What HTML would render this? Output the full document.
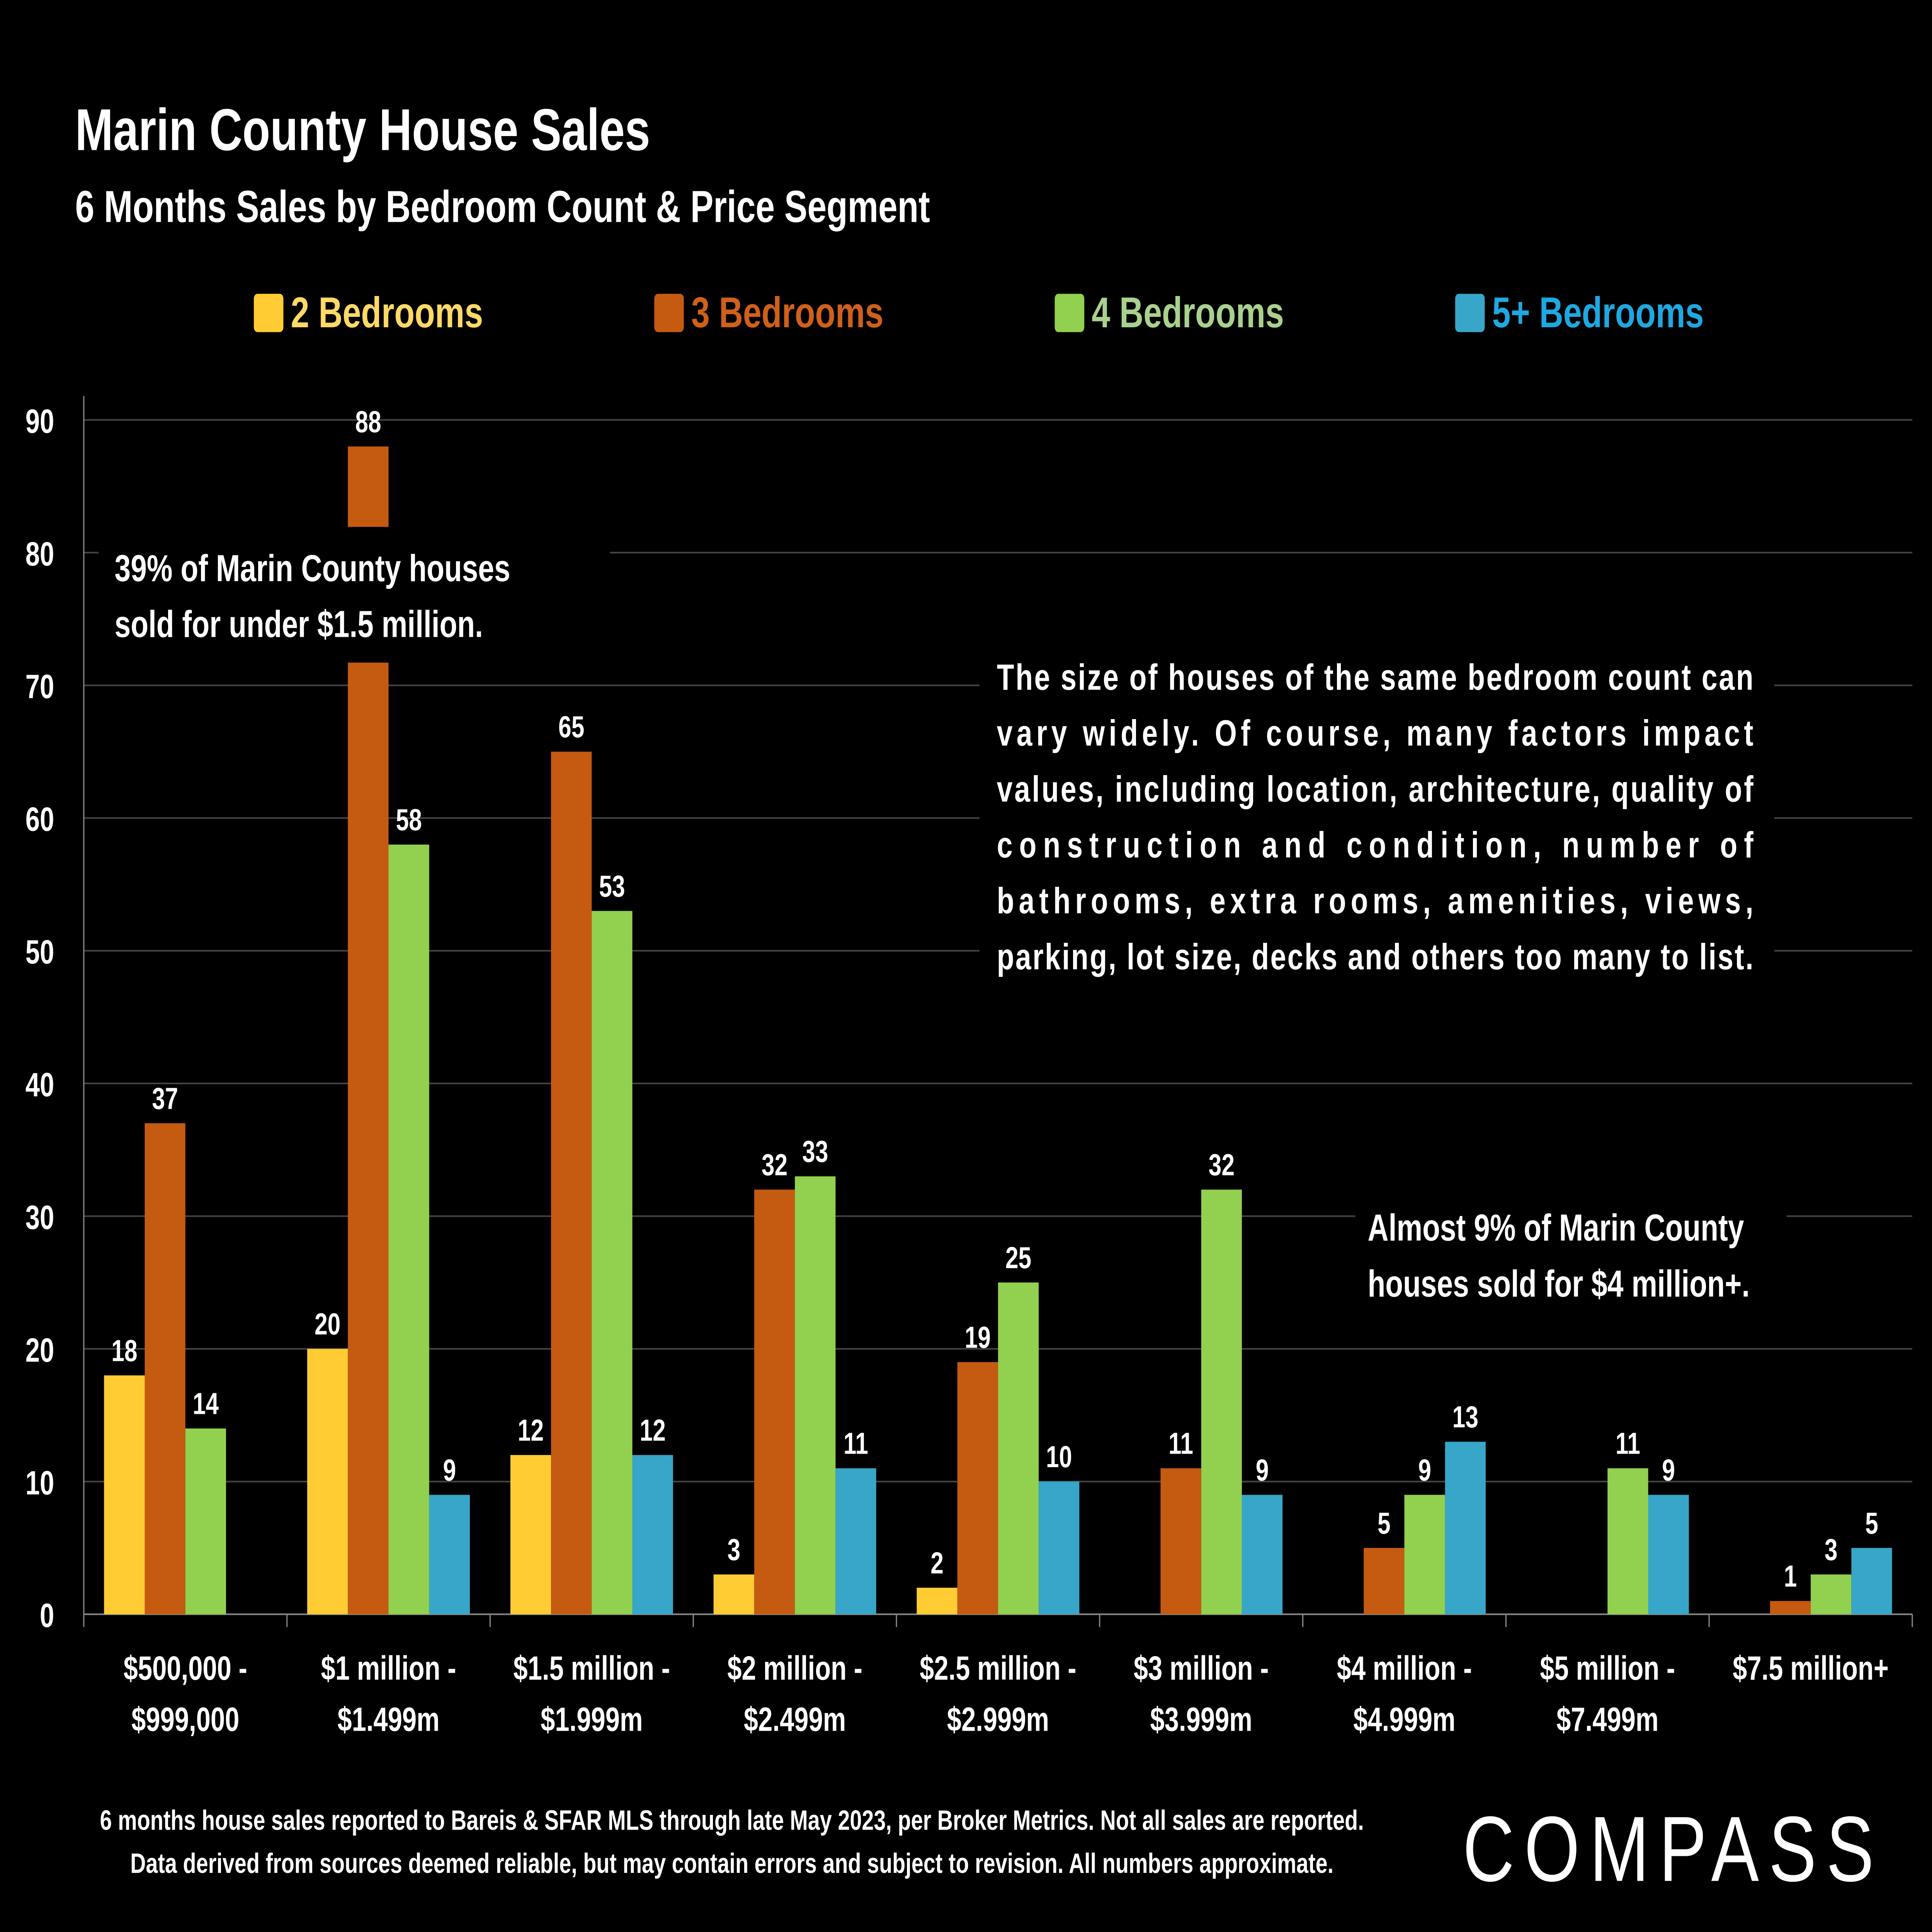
<!DOCTYPE html>
<html><head><meta charset="utf-8"><style>
html,body{margin:0;padding:0;background:#000;width:100vw;height:100vh;overflow:hidden;}
svg{display:block;width:100vw;height:100vh;}
text{font-family:"Liberation Sans",sans-serif;font-weight:bold;}
</style></head><body>
<svg id="chart" xmlns="http://www.w3.org/2000/svg" viewBox="0 0 1568 1210" preserveAspectRatio="none">
<rect width="1568" height="1210" fill="#000"/>
<text x="61" y="94" font-size="37" fill="#fff">Marin County House Sales</text>
<text x="61" y="139" font-size="28" fill="#fff">6 Months Sales by Bedroom Count &amp; Price Segment</text>
<g id="legend"></g>
<g id="grid"></g>
<g id="bars"></g>
<g id="overlay"></g>
<text x="594" y="1146" font-size="17.5" fill="#fff" text-anchor="middle">6 months house sales reported to Bareis &amp; SFAR MLS through late May 2023, per Broker Metrics. Not all sales are reported.</text>
<text x="594" y="1173" font-size="17.5" fill="#fff" text-anchor="middle">Data derived from sources deemed reliable, but may contain errors and subject to revision. All numbers approximate.</text>
<text x="1358" y="1178" font-size="58" fill="#fff" text-anchor="middle" style="font-weight:normal;letter-spacing:8px">COMPASS</text>
</svg>
<script>
const categories=["$500,000 -|$999,000","$1 million -|$1.499m","$1.5 million -|$1.999m","$2 million -|$2.499m","$2.5 million -|$2.999m","$3 million -|$3.999m","$4 million -|$4.999m","$5 million -|$7.499m","$7.5 million+|"];
const seriesNames=["2 Bedrooms","3 Bedrooms","4 Bedrooms","5+ Bedrooms"];
const br2=[18,20,12,3,2,null,null,null,null];
const br3=[37,88,65,32,19,11,5,null,1];
const br4=[14,58,53,33,25,32,9,11,3];
const br5=[null,9,12,11,10,9,13,9,5];
const yTicks=[0,10,20,30,40,50,60,70,80,90];
const colors=["#FFCC33","#C55A11","#92D050","#37A6C8"];
const legendColors=["#FFD966","#D0601A","#A9D18E","#1FA8E0"];
const NS="http://www.w3.org/2000/svg";
function mk(tag,attrs,parent,txt){const e=document.createElementNS(NS,tag);for(const k in attrs)e.setAttribute(k,attrs[k]);if(txt!==undefined)e.textContent=txt;parent.appendChild(e);return e;}
const X0=68,X1=1552,Y0=1011,Y90=263;
function y(v){return Y0-(v/90)*(Y0-Y90);}
const gw=(X1-X0)/categories.length;
function xc(i){return X0+gw*(i+0.5);}
const grid=document.getElementById('grid'),bars=document.getElementById('bars'),legend=document.getElementById('legend'),ov=document.getElementById('overlay');
yTicks.forEach(t=>{
 const l=mk('line',{x1:X0,x2:X1,y1:y(t),y2:y(t),stroke:t===0?'#888':'#444','stroke-width':1},grid);
 
 const tx=mk('text',{x:44,y:y(t)+8,'font-size':21,fill:'#fff','text-anchor':'end'},grid,String(t));
 
});
const ax=mk('line',{x1:X0,x2:X0,y1:248,y2:Y0,stroke:'#888','stroke-width':1},grid);

for(let i=0;i<=categories.length;i++){const tk=mk('line',{x1:X0+gw*i,x2:X0+gw*i,y1:Y0,y2:Y0+8,stroke:'#888'},grid);}
categories.forEach((c,i)=>{
 const parts=c.split('|');
 parts.forEach((p,j)=>{if(!p)return;const t=mk('text',{x:xc(i),y:1052+j*32,'font-size':21,fill:'#fff','text-anchor':'middle'},grid,p);
 });
});
const series=[br2,br3,br4,br5];const bw=33;
series.forEach((s,si)=>{
 s.forEach((v,i)=>{
  if(v===null)return;
  const x=xc(i)-66+si*33;
  const r=mk('rect',{x:x,y:y(v),width:bw,height:Y0-y(v),fill:colors[si]},bars);
  
  
  const t=mk('text',{x:x+bw/2,y:y(v)-9,'font-size':19,fill:'#fff','text-anchor':'middle'},bars,String(v));
  
 });
});
const lx=[206,531,856,1181];
seriesNames.forEach((n,i)=>{
 const r=mk('rect',{x:lx[i],y:184,width:24,height:24,rx:3,fill:colors[i]},legend);
 
 const t=mk('text',{x:lx[i]+30,y:205,'font-size':27,fill:legendColors[i]},legend,n);
 
});
let b=mk('rect',{x:80,y:330,width:415,height:85,fill:'#000'},ov);
let t=mk('text',{x:93,y:364,'font-size':23.5,fill:'#fff'},ov,'39% of Marin County houses');
t=mk('text',{x:93,y:399,'font-size':23.5,fill:'#fff'},ov,'sold for under $1.5 million.');
b=mk('rect',{x:795,y:405,width:645,height:210,fill:'#000'},ov);
const lines=["The size of houses of the same bedroom count can","vary widely. Of course, many factors impact","values, including  location, architecture, quality of","construction and condition, number of","bathrooms, extra rooms, amenities, views,","parking, lot size, decks and others too many to list."];
lines.forEach((ln,i)=>{const e=mk('text',{x:809,y:432+i*35,'font-size':23,fill:'#fff',textLength:614,lengthAdjust:'spacing'},ov,ln);
 });
b=mk('rect',{x:1100,y:748,width:350,height:78,fill:'#000'},ov);
t=mk('text',{x:1110,y:777,'font-size':23.5,fill:'#fff'},ov,'Almost 9% of Marin County');
t=mk('text',{x:1110,y:812,'font-size':23.5,fill:'#fff'},ov,'houses sold for $4 million+.');
</script>
</body></html>
